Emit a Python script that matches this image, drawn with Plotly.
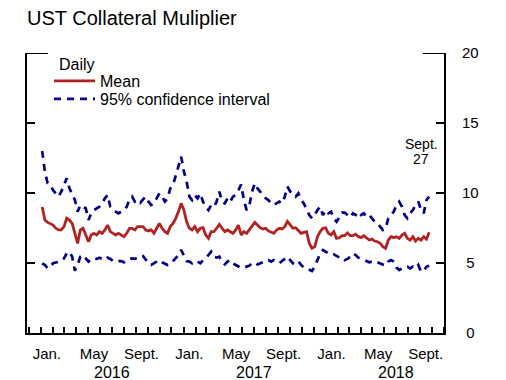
import pandas as pd
import plotly.graph_objects as go

# Weekly readings (Mondays), Jan 4, 2016 - Sept 24, 2018
dates = pd.date_range("2016-01-04", periods=143, freq="7D")

mean = [
    9.0, 8.07, 7.9, 7.83, 7.71, 7.48, 7.36, 7.36, 7.6, 8.2,
    8.07, 7.83, 7.0, 6.4, 7.36, 7.48, 7.0, 6.52, 7.0, 7.12,
    7.0, 7.24, 7.12, 7.36, 7.71, 7.24, 7.12, 7.0, 7.12, 7.0,
    6.88, 7.12, 7.48, 7.48, 7.36, 7.6, 7.6, 7.6, 7.36, 7.29,
    7.36, 7.12, 7.48, 7.83, 7.48, 7.24, 7.12, 7.6, 7.83, 8.19,
    8.67, 9.26, 8.78, 7.95, 7.48, 7.36, 7.6, 7.24, 7.48, 7.52,
    7.0, 6.76, 7.24, 7.24, 7.48, 7.76, 7.48, 7.24, 7.36, 7.24,
    7.12, 7.36, 7.71, 7.0, 7.24, 7.12, 7.4, 7.71, 7.9, 7.71,
    7.52, 7.43, 7.48, 7.29, 7.19, 7.12, 7.36, 7.48, 7.43, 7.6,
    7.98, 7.71, 7.48, 7.52, 7.29, 7.12, 7.19, 7.24, 6.4, 6.05,
    6.17, 6.88, 7.24, 7.48, 7.52, 7.12, 7.0, 7.24, 6.76, 6.8,
    6.95, 6.95, 7.15, 6.95, 6.95, 7.05, 6.88, 6.81, 6.95, 6.76,
    6.64, 6.71, 6.57, 6.52, 6.4, 6.17, 6.05, 6.64, 6.88, 6.81,
    6.88, 6.76, 7.0, 7.12, 6.76, 6.64, 6.88, 6.57, 6.76, 6.64,
    6.88, 6.71, 7.19,
]

upper = [
    13.0, 11.5, 10.69, 10.57, 10.2, 9.97, 9.74, 10.1, 10.57, 11.05,
    10.33, 9.97, 9.5, 8.67, 9.14, 9.02, 8.9, 8.07, 8.55, 8.78,
    8.9, 9.02, 9.26, 9.62, 9.86, 9.02, 8.78, 8.67, 8.55, 8.67,
    8.78, 9.02, 9.5, 9.74, 9.38, 9.5, 9.3, 9.55, 9.74, 9.38,
    9.14, 9.26, 9.62, 9.97, 9.74, 9.38, 9.62, 10.33, 10.57, 11.3,
    11.88, 12.59, 11.52, 10.81, 9.74, 9.5, 9.86, 9.62, 9.97, 9.38,
    9.02, 8.78, 9.14, 9.02, 9.38, 10.1, 9.38, 9.26, 9.62, 9.38,
    9.74, 9.86, 10.21, 10.6, 9.5, 8.78, 9.1, 10.1, 10.69, 10.33,
    10.1, 9.86, 9.62, 9.5, 9.26, 9.14, 9.26, 9.38, 9.26, 9.74,
    10.45, 10.1, 9.97, 9.74, 9.97, 9.5, 9.26, 8.9, 8.43, 8.19,
    8.43, 8.78, 9.02, 8.43, 8.78, 8.55, 8.67, 8.19, 7.95, 8.25,
    8.6, 8.6, 8.43, 8.25, 8.55, 8.43, 8.67, 8.43, 8.55, 8.31,
    8.43, 8.19, 7.95, 7.83, 7.6, 7.36, 7.48, 8.19, 8.43, 8.67,
    9.14, 9.38, 9.02, 8.43, 8.19, 8.55, 8.78, 9.14, 9.38, 8.78,
    8.55, 9.5, 9.74,
]

lower = [
    4.98, 4.86, 4.62, 4.74, 4.98, 5.03, 5.1, 5.14, 5.33, 5.69,
    5.81, 5.45, 4.45, 4.86, 5.45, 5.57, 5.33, 5.1, 5.29, 5.33,
    5.29, 5.38, 5.29, 5.21, 5.38, 5.29, 5.14, 5.1, 5.14, 5.14,
    5.05, 5.21, 5.29, 5.33, 5.29, 5.38, 5.52, 5.5, 5.21, 4.98,
    4.86, 4.98, 5.14, 5.21, 5.05, 4.98, 4.86, 4.9, 5.1, 5.33,
    5.57, 5.93, 5.57, 5.14, 5.1, 4.98, 5.14, 5.1, 4.98, 5.21,
    5.33, 5.57, 5.81, 5.45, 5.38, 5.45, 5.1, 4.9, 5.1, 5.21,
    4.98, 4.86, 4.74, 4.65, 4.67, 4.74, 4.81, 4.98, 5.05, 4.9,
    4.98, 5.1, 5.14, 5.21, 5.1, 5.21, 5.1, 4.98, 5.14, 5.33,
    5.45, 5.21, 4.98, 4.9, 5.1, 4.86, 4.67, 4.62, 4.5, 4.43,
    4.74, 5.21, 5.69, 5.93, 5.81, 5.69, 5.57, 5.62, 5.52, 5.4,
    5.4, 5.2, 5.29, 5.45, 5.69, 5.57, 5.38, 5.29, 5.21, 5.14,
    5.05, 5.1, 5.14, 5.05, 4.98, 4.86, 4.81, 5.1, 5.21, 5.1,
    4.67, 4.5, 4.62, 4.67, 4.74, 4.62, 4.74, 4.62, 4.86, 4.38,
    4.43, 4.74, 4.81,
]

month_label_dates = ["2016-01-16", "2016-05-16", "2016-09-15",
                     "2017-01-16", "2017-05-16", "2017-09-15",
                     "2018-01-16", "2018-05-16", "2018-09-15"]
month_labels = ["Jan.", "May", "Sept."] * 3
year_label_dates = ["2016-07-01", "2017-07-01", "2018-07-01"]
year_labels = ["2016", "2017", "2018"]
y_ticks = [0, 5, 10, 15, 20]
y_ticktext = ["\u2008" + str(v) if v < 10 else str(v) for v in y_ticks]

RED = "#B22222"
BLUE = "#00008B"
FONT = "Liberation Sans, Arial, sans-serif"
x_range = ["2015-11-26", "2018-11-01"]

# page body has an 8px margin: figure is sized/offset to compensate
W, H = 498, 372
L, T, R, B = 19, 45, 62, 47
PW, PH = W - L - R, H - T - B


def px_x(x):  # window x -> paper
    return (x - 8 - L) / PW


def px_y(y):  # window y -> paper
    return 1 - (y - 8 - T) / PH


fig = go.Figure()
fig.add_trace(go.Scatter(x=dates, y=upper, mode="lines", name="95% confidence interval",
                         legend="legend2", legendgroup="ci",
                         line=dict(color=BLUE, width=2.7, dash="7px,6px")))
fig.add_trace(go.Scatter(x=dates, y=lower, mode="lines", name="95% confidence interval",
                         legend="legend2", legendgroup="ci", showlegend=False,
                         line=dict(color=BLUE, width=2.7, dash="7px,6px")))
fig.add_trace(go.Scatter(x=dates, y=mean, mode="lines", name="Mean", legend="legend",
                         line=dict(color=RED, width=2.8)))

leg_common = dict(xanchor="left", yanchor="top", font=dict(size=16), itemwidth=41,
                  bgcolor="rgba(0,0,0,0)", borderwidth=0)

fig.update_layout(
    width=W, height=H, autosize=False,
    margin=dict(l=L, r=R, t=T, b=B),
    paper_bgcolor="white", plot_bgcolor="white",
    font=dict(family=FONT, size=15, color="black"),
    title=dict(text="UST Collateral Muliplier", x=L / W, xanchor="left",
               y=1 - 10 / H, yanchor="middle", font=dict(size=20)),
    showlegend=True,
    legend=dict(x=px_x(49), y=px_y(64), **leg_common),
    legend2=dict(x=px_x(49), y=px_y(82), **leg_common),
    xaxis=dict(type="date", range=x_range, showgrid=False, zeroline=False,
               showline=True, linecolor="black", linewidth=2,
               tickvals=month_label_dates, ticktext=month_labels,
               ticks="", ticklabelstandoff=6, tickfont=dict(size=15),
               minor=dict(ticks="inside", ticklen=6, tickwidth=1.5,
                          tickcolor="black", dtick="M1", tick0="2016-01-01")),
    xaxis2=dict(type="date", range=x_range, overlaying="x", anchor="y", side="bottom",
                showgrid=False, zeroline=False, showline=False,
                tickmode="linear", dtick="M12", tick0="2016-01-01",
                ticks="inside", ticklen=12, tickwidth=2, tickcolor="black",
                showticklabels=False),
    yaxis=dict(range=[0, 20], side="right", tickvals=y_ticks, ticktext=y_ticktext,
               showgrid=False, tickfont=dict(size=15),
               zeroline=False, showline=True, linecolor="black", linewidth=2,
               mirror="ticks", ticks="inside", ticklen=8, tickwidth=2,
               tickcolor="black", ticklabelstandoff=13),
)

# top bracket segments at the 20 level
for x0, x1 in [(0, 21 / PW), (1 - 21 / PW, 1)]:
    fig.add_shape(type="line", xref="paper", yref="y", x0=x0, x1=x1, y0=20, y1=20,
                  line=dict(color="black", width=2))

fig.add_annotation(x=px_x(57), xref="paper", y=px_y(65), yref="paper", text="Daily",
                   showarrow=False, font=dict(size=16), xanchor="left", yanchor="middle")

for d, t in zip(year_label_dates, year_labels):
    fig.add_annotation(x=d, xref="x", y=px_y(372), yref="paper", text=t,
                       showarrow=False, font=dict(size=16), xanchor="center",
                       yanchor="middle")

fig.add_annotation(x=px_x(421), xref="paper", y=px_y(144), yref="paper",
                   text="Sept.", showarrow=False, font=dict(size=14),
                   xanchor="center", yanchor="middle")
fig.add_annotation(x=px_x(421), xref="paper", y=px_y(159), yref="paper",
                   text="27", showarrow=False, font=dict(size=14),
                   xanchor="center", yanchor="middle")

fig.write_html("out.html")
